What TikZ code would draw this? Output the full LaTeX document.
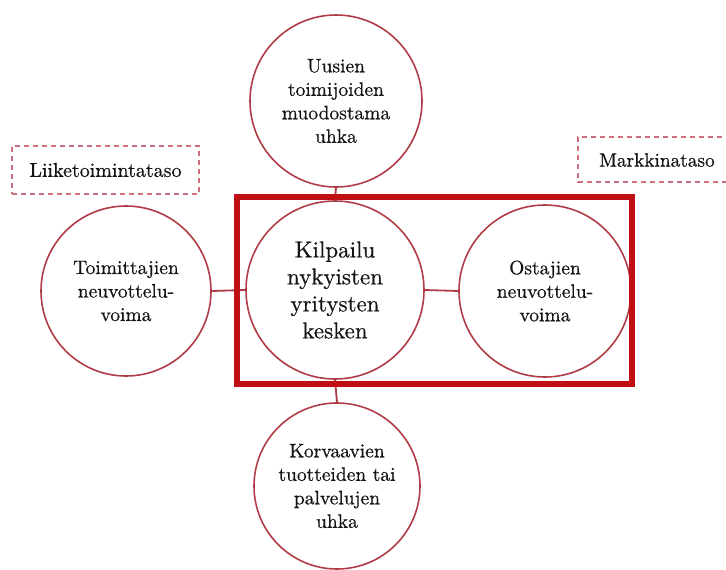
\documentclass[tikz,border=0pt]{standalone}
\usepackage{fontspec}
\newfontfamily\diagfont{lmroman10-regular.otf}[FakeBold=0.5]
\definecolor{circred}{RGB}{176,60,72}
\definecolor{boxred}{RGB}{192,16,22}
\definecolor{dashred}{RGB}{205,110,125}
\definecolor{txt}{RGB}{20,20,20}
\begin{document}
\begin{tikzpicture}[x=1pt,y=-1pt,
  force/.style={circle,draw=circred,line width=1.6pt,fill=white,inner sep=0pt,
    align=center,text=txt,font=\diagfont\fontsize{19.5}{23.5}\selectfont},
  conn/.style={draw=circred,line width=1.8pt},
  level/.style={draw=dashred,dash pattern=on 5pt off 4pt,line width=1.3pt,
    text=txt,font=\diagfont\fontsize{20}{23}\selectfont,inner sep=0pt}]
\useasboundingbox (0,0) rectangle (726,570);
% dashed level boxes
\node[level,minimum width=187pt,minimum height=48pt] (lt) at (105.5,170) {Liiketoimintataso};
\coordinate (mtA) at (740,137);
\coordinate (mtB) at (578,137);
\coordinate (mtC) at (578,182);
\coordinate (mtD) at (740,182);
\draw[draw=dashred,dash pattern=on 5pt off 4pt,line width=1.3pt] (mtA) -- (mtB) -- (mtC) -- (mtD);
\node[text=txt,font=\diagfont\fontsize{19.3}{23}\selectfont,inner sep=0pt] (mt) at (657,160) {Markkinataso};
% circles
\node[force,minimum size=172pt] (top) at (336,101) {Uusien\\toimijoiden\\muodostama\\uhka};
\node[force,minimum size=170pt] (left) at (126,291) {Toimittajien\\neuvottelu-\\voima};
\node[force,minimum size=172pt] (right) at (545,291) {Ostajien\\neuvottelu-\\voima};
\node[force,minimum size=166pt] (bot) at (337,486) {Korvaavien\\tuotteiden tai\\palvelujen\\uhka};
\node[force,minimum size=178pt,font=\diagfont\fontsize{23}{27}\selectfont] (mid) at (335,290) {Kilpailu\\nykyisten\\yritysten\\kesken};
% connectors
\draw[conn] (top.south) -- (mid.north);
\draw[conn] (left.east) -- (mid.west);
\draw[conn] (mid.east) -- (right.west);
\draw[conn] (mid.south) -- (bot.north);
% market rectangle
\draw[draw=boxred,line width=6pt] (237,197) rectangle (632,384);
\end{tikzpicture}
\end{document}
